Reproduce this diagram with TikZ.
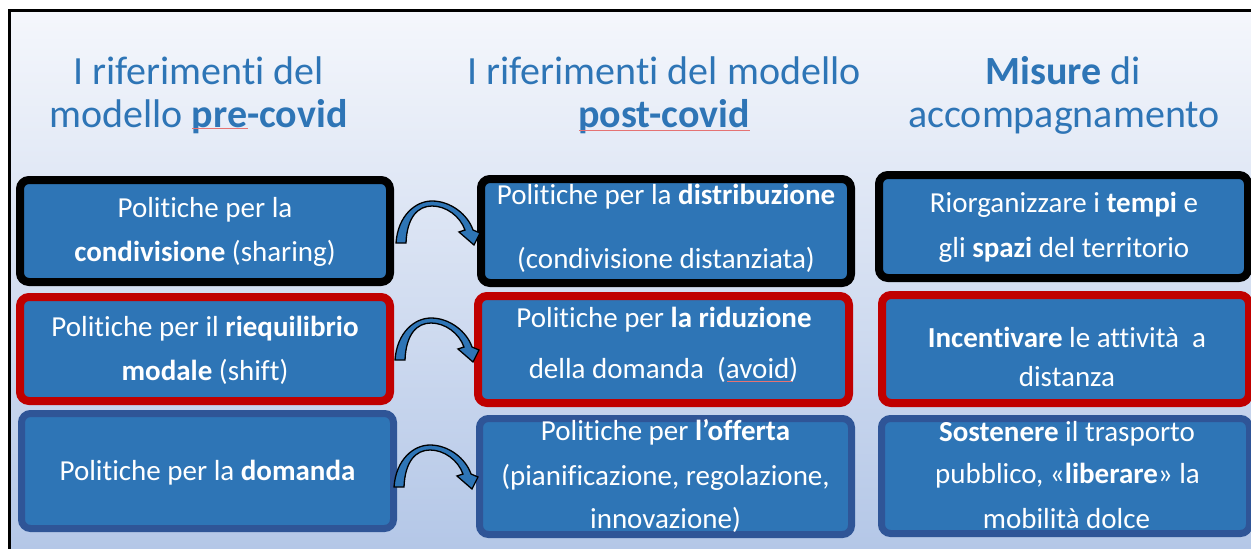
\documentclass[tikz,border=0pt]{standalone}
\usepackage{fontspec}
\setmainfont{Carlito}[RawFeature={-liga;-dlig;-clig;-calt;-rlig}]
\usetikzlibrary{calc}
\definecolor{boxblue}{HTML}{2E75B6}
\definecolor{darkborder}{HTML}{2F5597}
\definecolor{redborder}{HTML}{C00000}
\definecolor{headblue}{HTML}{2E75B6}
\definecolor{bgtop}{HTML}{F5F7FC}
\definecolor{bgbot}{HTML}{B4C7E7}
\definecolor{spell}{HTML}{E57373}
\begin{document}
\begin{tikzpicture}[x=1pt,y=-1pt,
  box/.style={rectangle, rounded corners=9pt, fill=boxblue, line width=8pt, inner sep=0pt},
  boxtxt/.style={text=white, font=\fontsize{29}{35}\selectfont, anchor=base, inner sep=0pt},
  headtxt/.style={text=headblue, font=\fontsize{40}{48}\selectfont, anchor=base, inner sep=0pt},
  spellline/.style={spell, line width=0.8pt},
  pics/curvearr/.style={code={
    \draw[black, line width=1.3pt, fill=boxblue, line join=miter]
      (0,0) .. controls (2,-28) and (20,-42) .. (36,-42)
      .. controls (55,-42) and (72,-28) .. (77,-13)
      -- (84,-10) -- (78,2) -- (63,-11) -- (69,-13)
      .. controls (64,-27) and (50,-37) .. (36,-37)
      .. controls (22,-37) and (11,-26) .. (10,0) -- cycle;
  }}]
\useasboundingbox (0,0) rectangle (1251,549);
\clip (0,0) rectangle (1251,549);
\fill[white] (0,0) rectangle (1251,549);
\shade[top color=bgtop, bottom color=bgbot] (9,10) rectangle (1251,549);
\draw[line width=3.5pt, line join=miter] (9.7,549) -- (9.7,10.5) -- (1251,10.5);

% headers
\node[headtxt] (h1a) at (198.5,84) {I riferimenti del};
\node[headtxt] (h1b) at (198.5,127) {modello \textbf{pre-covid}};
\node[headtxt] (h2a) at (664,84) {I riferimenti del modello};
\node[headtxt] (h2b) at (664,127) {\textbf{post-covid}};
\node[headtxt] (h3a) at (1063,84) {\textbf{Misure} di};
\node[headtxt] (h3b) at (1064,127) {accompagnamento};
\draw[spellline] (192,128.5) -- (248,128.5);
\draw[spellline] (579,130) -- (750,130);

% boxes
\node[box, draw=black, minimum width=370pt, minimum height=102pt] (A1) at (205,231) {};
\node[box, draw=black, minimum width=370pt, minimum height=104pt] (B1) at (666,231) {};
\node[box, draw=black, minimum width=369pt, minimum height=103pt] (C1) at (1063.5,226.5) {};
\node[box, draw=redborder, minimum width=370pt, minimum height=104pt] (A2) at (205,349) {};
\node[box, draw=redborder, minimum width=371pt, minimum height=107pt] (B2) at (663.5,349.5) {};
\node[box, draw=redborder, minimum width=367pt, minimum height=108pt] (C2) at (1065.5,349) {};
\node[box, draw=darkborder, line width=7pt, minimum width=372pt, minimum height=115pt] (A3) at (207.5,471) {};
\node[box, draw=darkborder, line width=7pt, minimum width=372pt, minimum height=116pt] (B3) at (665.5,476.5) {};
\node[box, draw=darkborder, line width=7pt, minimum width=368pt, minimum height=115pt] (C3) at (1065.5,476) {};

% box texts
\node[boxtxt] (A1a) at (205,217) {Politiche per la};
\node[boxtxt] (A1b) at (205,261) {\textbf{condivisione} (sharing)};
\node[boxtxt] (B1a) at (666,204) {Politiche per la \textbf{distribuzione}};
\node[boxtxt] (B1b) at (666,268) {(condivisione distanziata)};
\node[boxtxt] (C1a) at (1064,212) {Riorganizzare i \textbf{tempi} e};
\node[boxtxt] (C1b) at (1064,257) {gli \textbf{spazi} del territorio};
\node[boxtxt] (A2a) at (205,336) {Politiche per il \textbf{riequilibrio}};
\node[boxtxt] (A2b) at (205,380) {\textbf{modale} (shift)};
\node[boxtxt] (B2a) at (664,327) {Politiche per \textbf{la riduzione}};
\node[boxtxt] (B2b) at (663.5,378) {della domanda~ (avoid)};
\node[boxtxt] (C2a) at (1067,347) {\textbf{Incentivare} le attività~ a};
\node[boxtxt] (C2b) at (1067,386) {distanza};
\node[boxtxt] (A3a) at (207.5,480) {Politiche per la \textbf{domanda}};
\node[boxtxt] (B3a) at (665.5,440) {Politiche per \textbf{l’offerta}};
\node[boxtxt] (B3b) at (665.5,485) {(pianificazione, regolazione,};
\node[boxtxt] (B3c) at (665.5,528) {innovazione)};
\node[boxtxt] (C3a) at (1067,441) {\textbf{Sostenere} il trasporto};
\node[boxtxt] (C3b) at (1067.5,483) {pubblico, «\textbf{liberare}» la};
\node[boxtxt] (C3c) at (1066.5,528) {mobilità dolce};
\draw[spell, line width=0.6pt] (727,381) -- (792,381);

% curved arrows
\pic at ($(A1.east)+(2,12)$) {curvearr};
\pic at ($(A2.east)+(1,11)$) {curvearr};
\pic at ($(A3.east)+(-3,16)$) {curvearr};
\end{tikzpicture}
\end{document}
